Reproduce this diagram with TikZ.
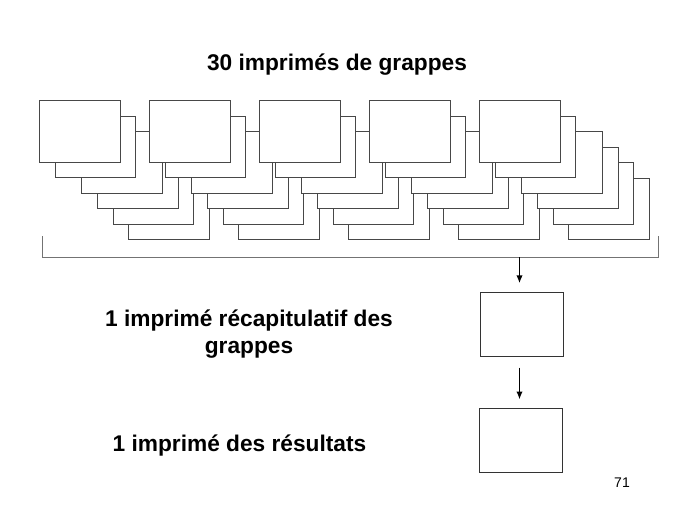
\documentclass[tikz,border=0pt]{standalone}
\usepackage{fontspec}
\setmainfont{Liberation Sans}
\usetikzlibrary{arrows.meta}
\begin{document}
\begin{tikzpicture}[x=1pt,y=-1pt,
  sheet/.style={draw=black!72, fill=white, line width=1pt, minimum width=80.7pt, minimum height=61.5pt, inner sep=0pt, outer sep=0pt, anchor=north west},
  result/.style={draw=black!80, fill=white, line width=1pt, minimum width=83pt, minimum height=64.3pt, inner sep=0pt, outer sep=0pt, anchor=north west},
  bracket/.style={draw=black!55, line width=1.1pt},
  title/.style={font=\bfseries\fontsize{22.7}{27.3}\selectfont, align=center, inner sep=0pt, anchor=base},
  link/.style={draw=black, line width=1.7pt, -{Latex[length=8pt,width=6.5pt]}}]
\useasboundingbox[fill=white] (0,0) rectangle (689,517);
% 30 sheets: five groups of six, each drawn back to front
\foreach \g in {0,...,4} {
  \foreach \k/\dx/\dy in {6/89.3/77.5, 5/73.9/62, 4/58.2/46.5, 3/42.5/31, 2/15.7/15.5, 1/0/0} {
    \node[sheet] (s\g-\k) at ({39.3+110*\g+\dx},{100.7+\dy}) {};
  }
}
% bracket under the sheets
\coordinate (bl) at (42.3,236);
\coordinate (br) at (658.7,236);
\coordinate (bb) at (42.3,257.3);
\draw[bracket] (bl) -- (bb) -- (bb -| br) -- (br);
\coordinate (a1) at (519.5,257.3);
% summary sheets
\node[result] (r1) at (480.7,292.3) {};
\node[result] (r2) at (479.3,408.5) {};
\draw[link, shorten >=9pt] (a1) -- (a1 |- r1.north);
\draw[link, shorten <=11pt, shorten >=9pt] (a1 |- r1.south) -- (a1 |- r2.north);
% labels
\node[title] (t1) at (337,70) {30 imprimés de grappes};
\node[title] (t2) at (249,353.3) {1 imprimé récapitulatif des\\grappes};
\node[title] (t3) at (239.5,451.7) {1 imprimé des résultats};
\node[font=\fontsize{14}{16}\selectfont, anchor=base, inner sep=0pt] (pg) at (622,487) {71};
\end{tikzpicture}
\end{document}
